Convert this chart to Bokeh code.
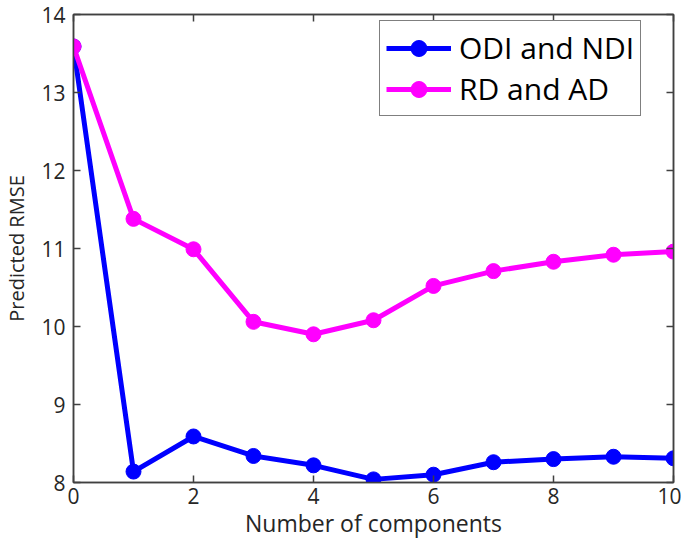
from bokeh.plotting import figure
from bokeh.models import LinearAxis, FixedTicker, Range1d, Legend, LegendItem, CustomJSTickFormatter
from bokeh.embed import file_html
from bokeh.resources import INLINE

components = [0, 1, 2, 3, 4, 5, 6, 7, 8, 9, 10]
odi_ndi = [13.59, 8.14, 8.59, 8.34, 8.22, 8.04, 8.10, 8.26, 8.30, 8.33, 8.31]
rd_ad = [13.59, 11.38, 10.99, 10.06, 9.90, 10.08, 10.52, 10.71, 10.83, 10.92, 10.96]
x_ticks = [0, 2, 4, 6, 8, 10]
y_ticks = [8, 9, 10, 11, 12, 13, 14]

FONT = "Open Sans"
TXT = "#262626"
AX = "#404040"

p = figure(frame_width=600, frame_height=468, output_backend="svg", toolbar_location=None,
           x_range=Range1d(0, 10), y_range=Range1d(8, 14),
           min_border_left=65, min_border_right=8, min_border_top=14, min_border_bottom=56,
           x_axis_label="Number of components", y_axis_label="Predicted RMSE")
p.grid.visible = False
p.outline_line_color = AX
p.outline_line_width = 1.5
p.background_fill_color = "white"
p.border_fill_color = "white"

def style(ax, ticks, labels=True):
    ax.ticker = FixedTicker(ticks=ticks)
    ax.major_tick_in = 7
    ax.major_tick_out = 0
    ax.minor_tick_line_color = None
    ax.axis_line_color = AX
    ax.axis_line_width = 1.5
    ax.major_tick_line_color = AX
    ax.major_tick_line_width = 1.5
    ax.major_label_text_font = FONT
    ax.major_label_text_font_size = "21px"
    ax.major_label_text_color = TXT
    ax.axis_label_text_font = FONT
    ax.axis_label_text_font_style = "normal"
    ax.axis_label_text_color = TXT
    if not labels:
        ax.formatter = CustomJSTickFormatter(code="return ''")
        ax.major_label_standoff = 0

style(p.xaxis[0], x_ticks)
style(p.yaxis[0], y_ticks)
p.xaxis[0].axis_label_text_font_size = "23px"
p.yaxis[0].axis_label_text_font_size = "20px"
p.xaxis[0].major_label_standoff = 5
p.yaxis[0].major_label_standoff = 8
p.xaxis[0].axis_label_standoff = 0
p.yaxis[0].axis_label_standoff = 8

top = LinearAxis()
style(top, x_ticks, labels=False)
right = LinearAxis()
style(right, y_ticks, labels=False)
p.add_layout(top, "above")
p.add_layout(right, "right")

l1 = p.line(components, odi_ndi, line_color="#0000FF", line_width=5)
m1 = p.scatter(components, odi_ndi, size=15, fill_color="#0000FF", line_color="#0000FF")
l2 = p.line(components, rd_ad, line_color="#FF00FF", line_width=5)
m2 = p.scatter(components, rd_ad, size=15, fill_color="#FF00FF", line_color="#FF00FF")

legend = Legend(items=[LegendItem(label="ODI and NDI", renderers=[l1, m1]),
                       LegendItem(label="RD and AD", renderers=[l2, m2])],
                location=(306, 366))
legend.label_text_font = FONT
legend.label_text_font_size = "30px"
legend.label_text_color = "black"
legend.glyph_width = 65
legend.glyph_height = 40
legend.label_height = 40
legend.label_standoff = 8
legend.spacing = 0
legend.padding = 6
legend.margin = 0
legend.border_line_color = "black"
legend.border_line_width = 1.5
legend.background_fill_alpha = 1
p.add_layout(legend)

open("out.html", "w").write(file_html(p, INLINE))
